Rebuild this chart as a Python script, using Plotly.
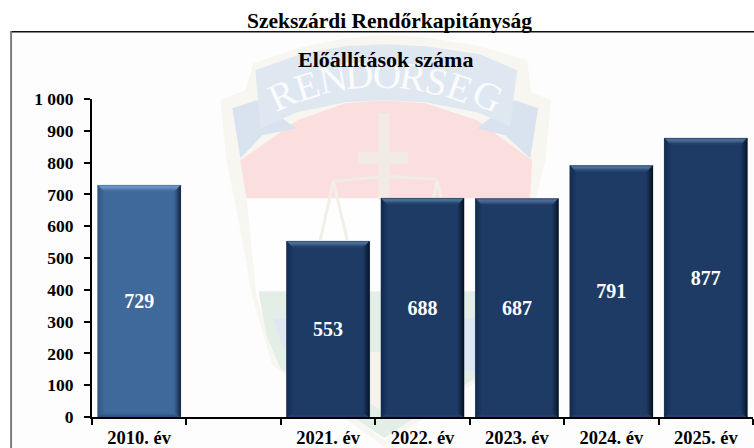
import plotly.graph_objects as go

W, H = 754, 448
ML, MR, MT, MB = 91.5, 1, 98.7, 31.3

categories = ["2010. év", " ", "2021. év", "2022. év", "2023. év", "2024. év", "2025. év"]
values = [729, None, 553, 688, 687, 791, 877]
palette_names = ["blue", None, "navy", "navy", "navy", "navy", "navy"]
y_ticks = [0, 100, 200, 300, 400, 500, 600, 700, 800, 900, 1000]
y_tick_text = ["0", "100", "200", "300", "400", "500", "600", "700", "800", "900", "1 000"]
title_top = "Szekszárdi Rendőrkapitányság"
title_sub = "Előállítások száma"

SERIF = "Liberation Serif, Times New Roman, serif"
BASE = {"blue": (63, 104, 155), "navy": (30, 59, 101)}
TARGET = {
    "blue": {"top": (120, 158, 205), "bottom": (38, 62, 95), "left": (50, 86, 132), "right": (16, 34, 58)},
    "navy": {"top": (88, 122, 163), "bottom": (48, 76, 112), "left": (22, 46, 80), "right": (8, 20, 36)},
}
BAR_WIDTH = 0.88
PX_X = 7 / (W - ML - MR)
PX_Y = 1000 / (H - MT - MB)
LEVELS = 6
THICK = {"top": 1.1, "bottom": 0.7, "left": 1.0, "right": 1.0}


def mix(a, b, f):
    return "rgb(%d,%d,%d)" % tuple(round(a[i] + (b[i] - a[i]) * f) for i in range(3))


def px(x):
    return (x - ML) / (W - ML - MR)


def py(y):
    return 1 - (y - MT) / (H - MT - MB)


def path(points, close=True):
    s = "M " + " L ".join(f"{px(x):.4f},{py(y):.4f}" for x, y in points)
    return s + (" Z" if close else "")


def poly(points, fill, line=None, lw=0):
    return dict(type="path", xref="paper", yref="paper", layer="below", path=path(points),
                fillcolor=fill, line=dict(color=line or "rgba(0,0,0,0)", width=lw))


def stroke(points, color, lw):
    return dict(type="path", xref="paper", yref="paper", layer="below", path=path(points, False),
                fillcolor="rgba(0,0,0,0)", line=dict(color=color, width=lw))


BEIGE = "#f8f6f0"
shapes = [
    dict(type="rect", xref="paper", yref="paper", layer="below", x0=px(10), x1=px(760), y0=py(455), y1=py(31),
         fillcolor="#fdfdfd", line=dict(width=0)),
    poly([(220, 100), (245, 90), (253, 63), (300, 47), (345, 38), (384, 35), (425, 37), (480, 46), (527, 60),
          (531, 92), (551, 100), (545, 160), (528, 230), (516, 297), (500, 365), (383, 446), (272, 365),
          (252, 297), (240, 230), (226, 160)], BEIGE),
    poly([(246, 195), (530, 195), (513, 295), (495, 360), (384, 440), (277, 360), (256, 295)], "#fefefe"),
    poly([(240, 160), (297, 120), (345, 103), (384, 100), (425, 103), (477, 120), (532, 160), (530, 198), (246, 198)],
         "#fbdfdf"),
    poly([(232, 108), (256, 100), (296, 128), (262, 135), (240, 158)], "#d9e3ef"),
    poly([(538, 108), (515, 100), (476, 128), (505, 135), (530, 158)], "#d9e3ef"),
    poly([(255, 70), (300, 54), (345, 46), (384, 44), (425, 46), (480, 54), (517, 70), (510, 126), (477, 112),
          (425, 102), (384, 100), (345, 102), (297, 112), (260, 128)], "#dfe7f1"),
    poly([(378, 113), (389, 113), (389, 152), (408, 152), (408, 164), (389, 164), (389, 200), (378, 200),
          (378, 164), (358, 164), (358, 152), (378, 152)], "#f2ebe3"),
    stroke([(333, 181), (384, 176), (437, 179)], "#f1ece2", 3),
    stroke([(320, 240), (333, 181), (347, 240)], "#f3efe7", 3),
    stroke([(424, 240), (437, 181), (450, 240)], "#f3efe7", 3),
    poly([(258, 291), (510, 291), (503, 335), (490, 368), (384, 438), (280, 368), (266, 335)], "#e3efe6"),
    poly([(273, 318), (340, 318), (352, 370), (290, 370)], "#dee8f4"),
    poly([(490, 318), (425, 318), (415, 370), (478, 370)], "#dee8f4"),
    poly([(340, 352), (425, 352), (425, 385), (384, 412), (340, 385)], "#f6f3ec"),
    dict(type="line", xref="paper", yref="paper", layer="below", x0=px(10), x1=px(760), y0=py(31.5), y1=py(31.5),
         line=dict(color="#111111", width=1.5)),
    dict(type="line", xref="paper", yref="paper", layer="below", x0=px(10.5), x1=px(10.5), y0=py(31), y1=py(455),
         line=dict(color="#7f7f7f", width=2)),
]

fig = go.Figure()
fig.add_bar(
    x=categories, y=values, width=BAR_WIDTH,
    marker=dict(color=[mix(BASE[p], BASE[p], 0) if p else "rgba(0,0,0,0)" for p in palette_names], line=dict(width=0)),
    text=[str(v) if v is not None else "" for v in values],
    texttemplate="<b>%{text}</b>",
    textposition="inside", insidetextanchor="middle", textangle=0, constraintext="none",
    textfont=dict(family=SERIF, size=20, color="white"),
    hoverinfo="skip", showlegend=False,
)


def trapezoid(side, xc, v, a, b):
    L = xc - BAR_WIDTH / 2
    R = xc + BAR_WIDTH / 2

    def inner(k):
        return (L + THICK["left"] * k * PX_X, R - THICK["right"] * k * PX_X,
                THICK["bottom"] * k * PX_Y, v - THICK["top"] * k * PX_Y)
    l0, r0, b0, t0 = inner(a)
    l1, r1, b1, t1 = inner(b)
    return {
        "top": [(l0, t0), (r0, t0), (r1, t1), (l1, t1)],
        "bottom": [(l0, b0), (r0, b0), (r1, b1), (l1, b1)],
        "left": [(l0, b0), (l0, t0), (l1, t1), (l1, b1)],
        "right": [(r0, b0), (r0, t0), (r1, t1), (r1, b1)],
    }[side]


for pal in ["blue", "navy"]:
    for side in ["top", "bottom", "left", "right"]:
        for lev in range(LEVELS):
            xs, ys = [], []
            for i, (v, p) in enumerate(zip(values, palette_names)):
                if p != pal:
                    continue
                pts = trapezoid(side, i, v, lev, lev + 1)
                xs += [q[0] for q in pts] + [pts[0][0], None]
                ys += [q[1] for q in pts] + [pts[0][1], None]
            frac = 1 - lev / LEVELS
            if side == "top":
                frac = [0.35, 1.0, 0.85, 0.6, 0.3, 0.1][lev]
            if side == "bottom":
                frac = [0.0, 1.0, 0.7, 0.4, 0.2, 0.05][lev]
            col = mix(BASE[pal], TARGET[pal][side], frac)
            fig.add_scatter(x=xs, y=ys, xaxis="x2", mode="lines", fill="toself", fillcolor=col,
                            line=dict(width=0.3, color=col), hoverinfo="skip", showlegend=False)

letters = [("R", 282, 94, -25), ("E", 307, 85, -17), ("N", 333, 78, -10), ("D", 359, 74, -4), ("O", 387, 74, 3),
           ("R", 413, 76, 9), ("S", 437, 81, 14), ("E", 460, 87, 20), ("G", 488, 95, 26)]
annotations = [
    dict(text=c, x=px(x), y=py(y), xref="paper", yref="paper", showarrow=False, textangle=a,
         xanchor="center", yanchor="middle", font=dict(family=SERIF, size=39, color="#fafbfd"))
    for c, x, y, a in letters
]
annotations += [
    dict(text=f"<b>{title_top}</b>", x=px(389), y=py(21), xref="paper", yref="paper", showarrow=False,
         xanchor="center", yanchor="middle", font=dict(family=SERIF, size=21.5, color="black")),
    dict(text=f"<b>{title_sub}</b>", x=px(385), y=py(59), xref="paper", yref="paper", showarrow=False,
         xanchor="center", yanchor="middle", font=dict(family=SERIF, size=22, color="black")),
]

fig.update_layout(
    width=W, height=H, autosize=False, margin=dict(l=ML, r=MR, t=MT, b=MB),
    paper_bgcolor="white", plot_bgcolor="rgba(0,0,0,0)", barmode="overlay", showlegend=False,
    shapes=shapes, annotations=annotations,
    xaxis=dict(type="category", categoryorder="array", categoryarray=categories, range=[-0.5, 6.5],
               tickson="boundaries", ticks="outside", ticklen=6, tickwidth=2, tickcolor="black",
               showline=True, linecolor="black", linewidth=2, showgrid=False, zeroline=False,
               tickprefix="<b>", ticksuffix="</b>",
               tickfont=dict(family=SERIF, size=18.5, color="black"), ticklabelstandoff=3),
    xaxis2=dict(overlaying="x", range=[-0.5, 6.5], visible=False, fixedrange=True),
    yaxis=dict(range=[0, 1000], tickvals=y_ticks, ticktext=[f"<b>{t}</b>" for t in y_tick_text],
               ticks="outside", ticklen=6, tickwidth=2,
               tickcolor="black", showline=True, linecolor="black", linewidth=2, showgrid=False, zeroline=False,
               tickfont=dict(family=SERIF, size=17.5, color="black"), ticklabelstandoff=7),
)
fig.write_html("out.html", config={"displayModeBar": False},
               post_script="document.body.style.margin='0';document.documentElement.style.overflow='hidden';")
